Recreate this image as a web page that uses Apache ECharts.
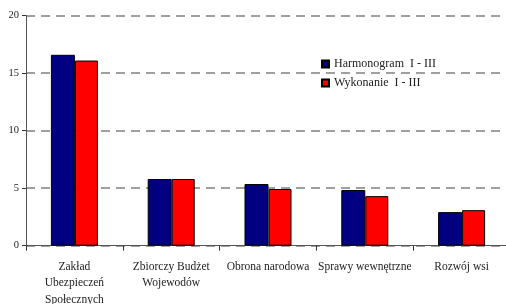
<!DOCTYPE html>
<html><head><meta charset="utf-8">
<script src="https://cdn.jsdelivr.net/npm/echarts@6/dist/echarts.min.js"></script>
<style>html,body{margin:0;padding:0;background:#fff}#c{width:506px;height:304px}</style>
</head><body><div id="c"></div>
<script>
var categories = ['Zakład\nUbezpieczeń\nSpołecznych', 'Zbiorczy Budżet\nWojewodów', 'Obrona narodowa', 'Sprawy wewnętrzne', 'Rozwój wsi'];
var harmonogram = [16.6, 5.8, 5.36, 4.84, 2.92];
var wykonanie = [16.1, 5.8, 4.93, 4.31, 3.09];
var yTicks = [0, 5, 10, 15, 20];
var seriesNames = ['Harmonogram  I - III', 'Wykonanie  I - III'];

var font = 'Liberation Serif';
var chart = echarts.init(document.getElementById('c'));
chart.setOption({
  animation: false,
  textStyle: {fontFamily: font},
  grid: {left: 26, right: -4, top: 15.7, bottom: 58.3, containLabel: false, outerBoundsMode: 'none'},
  legend: {
    orient: 'vertical', left: 316, top: 53, itemWidth: 7, itemHeight: 7, itemGap: 7,
    icon: 'rect',
    textStyle: {fontFamily: font, fontSize: 12, color: '#222'},
    data: seriesNames
  },
  xAxis: {
    type: 'category', data: categories,
    axisLine: {lineStyle: {color: '#555', width: 1}},
    axisTick: {show: true, length: 5, lineStyle: {color: '#333'}},
    axisLabel: {fontFamily: font, fontSize: 11.5, color: '#222', lineHeight: 16.5, margin: 13, interval: 0}
  },
  yAxis: {
    type: 'value', min: yTicks[0], max: yTicks[yTicks.length - 1], interval: 5,
    axisLine: {show: true, lineStyle: {color: '#555', width: 1}},
    axisTick: {show: true, length: 4, lineStyle: {color: '#333'}},
    axisLabel: {fontFamily: font, fontSize: 10.5, color: '#222', margin: 7},
    splitLine: {show: true, lineStyle: {color: '#808080', type: [9, 6], width: 1.5}}
  },
  series: [
    {name: seriesNames[0], type: 'bar', data: harmonogram, barWidth: 24, barGap: '0%',
     itemStyle: {color: '#000080', borderColor: '#000', borderWidth: 1}},
    {name: seriesNames[1], type: 'bar', data: wykonanie, barWidth: 23,
     itemStyle: {color: '#ff0000', borderColor: '#000', borderWidth: 1}}
  ]
});
</script></body></html>
